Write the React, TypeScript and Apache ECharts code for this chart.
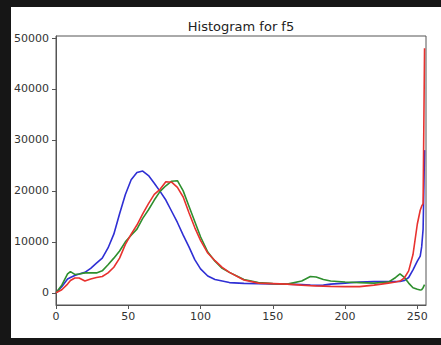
import React, { useEffect, useRef } from "react";
import * as echarts from "echarts";

const bins = [0, 4, 8, 10, 13, 16, 20, 24, 28, 32, 36, 40, 44, 48, 52, 56, 60, 64, 68, 72, 76, 80, 84, 88, 92, 96, 100, 105, 110, 115, 120, 130, 140, 150, 160, 170, 176, 180, 185, 190, 200, 210, 220, 230, 235, 238, 241, 244, 247, 250, 252, 253, 254, 255];

const blueValues = [0, 1200, 2700, 3000, 3400, 3700, 4000, 4800, 5800, 6800, 8800, 11500, 15500, 19300, 22200, 23600, 23900, 23000, 21500, 19900, 18200, 16000, 13800, 11300, 9000, 6500, 4700, 3300, 2600, 2300, 2000, 1850, 1800, 1750, 1700, 1600, 1500, 1450, 1500, 1700, 1900, 2100, 2200, 2200, 2200, 2200, 2400, 3000, 4500, 6200, 7200, 9000, 12500, 28000];

const greenValues = [0, 1500, 3700, 4150, 3600, 3700, 3900, 3900, 3900, 4300, 5500, 6800, 8200, 10000, 11300, 12500, 14600, 16300, 18200, 19900, 21000, 21900, 22000, 20000, 17000, 14000, 11000, 8000, 6200, 4800, 4000, 2600, 2000, 1800, 1700, 2300, 3200, 3100, 2600, 2300, 2100, 2000, 1900, 2100, 3000, 3700, 3000, 1900, 1000, 700, 550, 600, 1000, 1600];

const redValues = [0, 600, 1700, 2400, 2900, 2900, 2300, 2700, 3000, 3200, 3900, 5000, 6800, 9500, 11500, 13300, 15500, 17500, 19300, 20300, 21800, 21700, 20700, 18800, 15700, 12800, 10300, 7800, 6300, 5000, 4000, 2500, 1900, 1800, 1700, 1500, 1400, 1350, 1300, 1250, 1200, 1200, 1500, 1900, 2100, 2300, 2900, 4300, 7500, 13500, 16200, 17000, 17500, 48000];

const xTicks = [0, 50, 100, 150, 200, 250];
const yTicks = [0, 10000, 20000, 30000, 40000, 50000];

const pairs = (ys: number[]) => bins.map((x, i) => [x, ys[i]]);

export default function App() {
  const ref = useRef<HTMLDivElement>(null);
  useEffect(() => {
    if (!ref.current) return;
    const chart = echarts.init(ref.current, undefined, { renderer: "svg" });
    const font = "DejaVu Sans";
    chart.setOption({
      animation: false,
      backgroundColor: "#ffffff",
      grid: {
        left: 56,
        top: 36,
        right: 15,
        bottom: 40,
        show: true,
        borderColor: "#555",
        borderWidth: 1,
        backgroundColor: "transparent",
      },
      xAxis: {
        type: "value",
        min: 0,
        max: 256,
        axisLine: { show: true, onZero: false, lineStyle: { color: "#555", width: 1 } },
        axisTick: { show: true, length: 4, inside: false, customValues: xTicks, lineStyle: { color: "#555" } },
        axisLabel: { show: true, margin: 6, color: "#333", fontSize: 11, fontFamily: font, customValues: xTicks, formatter: (v: number) => String(v) },
        splitLine: { show: false },
      },
      yAxis: {
        type: "value",
        min: -2400,
        max: 50400,
        axisLine: { show: true, onZero: false, lineStyle: { color: "#555", width: 1 } },
        axisTick: { show: true, length: 4, inside: false, customValues: yTicks, lineStyle: { color: "#555" } },
        axisLabel: { show: true, margin: 7, color: "#333", fontSize: 11, fontFamily: font, customValues: yTicks, formatter: (v: number) => String(v) },
        splitLine: { show: false },
      },
      series: [
        { type: "line", data: pairs(blueValues), showSymbol: false, lineStyle: { color: "#2f2fd4", width: 1.6 }, itemStyle: { color: "#2f2fd4" } },
        { type: "line", data: pairs(greenValues), showSymbol: false, lineStyle: { color: "#2e8f2e", width: 1.6 }, itemStyle: { color: "#2e8f2e" } },
        { type: "line", data: pairs(redValues), showSymbol: false, lineStyle: { color: "#e8322f", width: 1.6 }, itemStyle: { color: "#e8322f" } },
      ],
      graphic: [
        { type: "rect", shape: { x: 428, y: 0, width: 13, height: 345 }, style: { fill: "#ffffff" }, silent: true, z: 100 },
        { type: "rect", shape: { x: 0, y: 0, width: 441, height: 7 }, style: { fill: "#161616" }, silent: true, z: 101 },
        { type: "rect", shape: { x: 0, y: 0, width: 11, height: 345 }, style: { fill: "#161616" }, silent: true, z: 101 },
        { type: "rect", shape: { x: 0, y: 338, width: 441, height: 7 }, style: { fill: "#161616" }, silent: true, z: 101 },
        {
          type: "text",
          x: 241,
          y: 26,
          style: { text: "Histogram for f5", fontSize: 13, fontFamily: font, fill: "#222", textAlign: "center", textVerticalAlign: "middle" },
        },
      ],
    });
    return () => chart.dispose();
  }, []);
  return (
    <div style={{ position: "fixed", left: 0, top: 0, width: 441, height: 345, background: "#ffffff" }}>
      <div ref={ref} style={{ width: 441, height: 345 }} />
    </div>
  );
}
